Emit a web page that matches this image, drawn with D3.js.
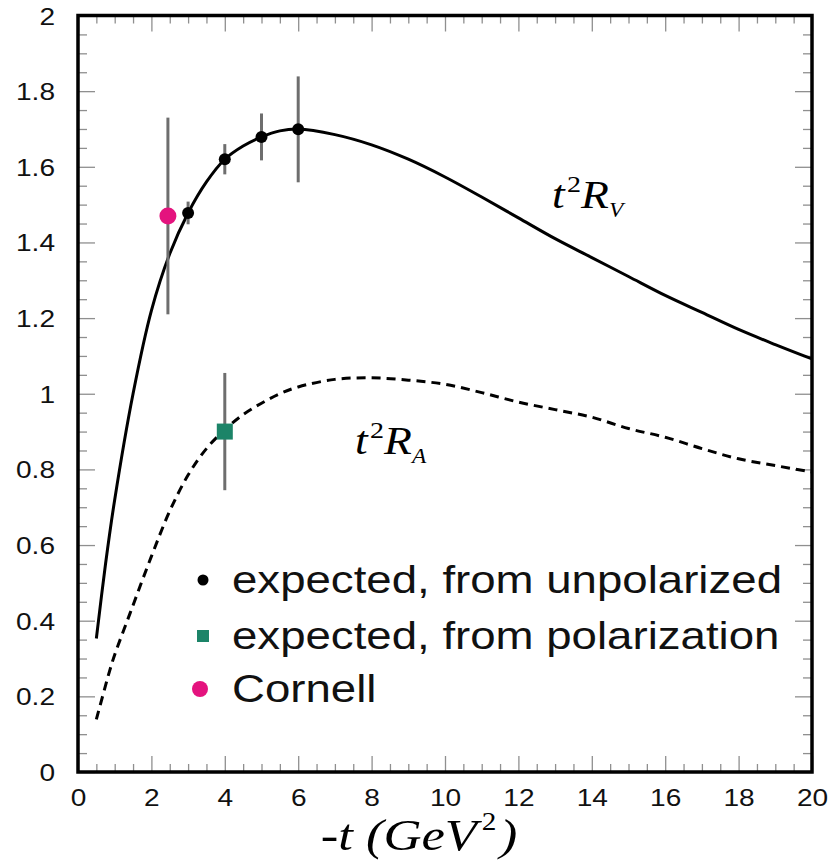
<!DOCTYPE html>
<html>
<head>
<meta charset="utf-8">
<script src="https://cdn.jsdelivr.net/npm/d3@7"></script>
<style>
  body { margin: 0; background: #fff; }
  svg { display: block; }
</style>
</head>
<body>
<svg id="chart" width="828" height="863"></svg>
<script>
// curve t^2 R_V (solid)
const rvT   = [0.5, 0.75, 1.0, 1.5, 2.0, 2.5, 3.0, 3.5, 4.0, 4.5, 5.0, 5.5, 6.0, 7.0, 8.0, 9.0, 10.0, 11.0, 12.0, 13.0, 14.0, 15.0, 16.0, 17.0, 18.0, 19.0, 20.0]
const rvVal = [0.353, 0.55, 0.72, 1.0, 1.22, 1.37, 1.478, 1.56, 1.62, 1.655, 1.679, 1.695, 1.70, 1.685, 1.658, 1.62, 1.573, 1.52, 1.465, 1.41, 1.36, 1.31, 1.26, 1.215, 1.17, 1.13, 1.092]

// curve t^2 R_A (dashed)
const raT   = [0.5, 0.87, 1.0, 1.42, 2.0, 2.5, 3.0, 3.5, 4.0, 4.5, 5.0, 5.5, 6.0, 7.0, 8.0, 9.0, 10.0, 11.0, 12.0, 13.0, 14.0, 15.0, 16.0, 17.0, 18.0, 19.0, 20.0]
const raVal = [0.139, 0.27, 0.31, 0.42, 0.57, 0.69, 0.785, 0.855, 0.905, 0.945, 0.975, 1.0, 1.018, 1.038, 1.042, 1.036, 1.025, 1.003, 0.978, 0.958, 0.938, 0.908, 0.885, 0.855, 0.828, 0.81, 0.793]

// points with error bars
const unpolT   = [3, 4, 5, 6]
const unpolVal = [1.478, 1.62, 1.679, 1.699]
const unpolErr = [0.03, 0.04, 0.062, 0.14]

const polT   = [4]
const polVal = [0.90]
const polErr = [0.155]

const cornellT   = [2.45]
const cornellVal = [1.47]
const cornellErr = [0.26]

const xMajor = [0, 2, 4, 6, 8, 10, 12, 14, 16, 18, 20]
const yMajor = [0, 0.2, 0.4, 0.6, 0.8, 1, 1.2, 1.4, 1.6, 1.8, 2]

const legendLabels = ['expected, from unpolarized', 'expected, from polarization', 'Cornell']

const stretch = 1.17
const sans = "'Liberation Sans', Arial, Helvetica, sans-serif"
const serif = "'Liberation Serif', 'Times New Roman', serif"

const plot = { left: 78, right: 812, top: 15.5, bottom: 772 }

const svg = d3.select('#chart')

const x = d3.scaleLinear().domain([0, 20]).range([plot.left, plot.right])
const y = d3.scaleLinear().domain([0, 2]).range([plot.bottom, plot.top])

const xMinor = d3.range(0, 20.01, 0.5).filter(v => v % 2 !== 0)
const yMinor = d3.range(0, 2.001, 0.05).map(v => +v.toFixed(2)).filter(v => Math.abs(v * 5 - Math.round(v * 5)) > 1e-6)

const tickColor = '#8f8f8f'
const yFmt = d3.format('~g')

function styleTicks(g) {
  g.select('.domain').remove()
  g.selectAll('line').attr('stroke', tickColor).attr('stroke-width', 1.3)
}

// ticks on all four sides, pointing inward
const sides = [
  { axis: d3.axisBottom(x), tr: [0, plot.bottom], major: xMajor, minor: xMinor, len: 16, mlen: 8 },
  { axis: d3.axisTop(x), tr: [0, plot.top], major: xMajor, minor: xMinor, len: 16, mlen: 8 },
  { axis: d3.axisLeft(y), tr: [plot.left, 0], major: yMajor, minor: yMinor, len: 17, mlen: 9 },
  { axis: d3.axisRight(y), tr: [plot.right, 0], major: yMajor, minor: yMinor, len: 17, mlen: 9 }
]

sides.forEach((s, i) => {
  svg.append('g')
    .attr('transform', 'translate(' + s.tr[0] + ',' + s.tr[1] + ')')
    .call(s.axis.tickValues(s.minor).tickSize(-s.mlen).tickFormat(''))
    .call(styleTicks)

  const g = svg.append('g')
    .attr('class', 'major-' + i)
    .attr('transform', 'translate(' + s.tr[0] + ',' + s.tr[1] + ')')
    .call(s.axis.tickValues(s.major).tickSize(-s.len).tickFormat(i === 2 ? yFmt : (i === 0 ? d3.format('d') : '')))
    .call(styleTicks)

  g.selectAll('text').attr('fill', '#111').attr('font-family', sans).attr('font-size', 24)
})

// bottom tick labels
svg.select('.major-0').selectAll('text')
  .attr('y', 0).attr('dy', 0)
  .attr('transform', 'translate(0,34) scale(' + stretch + ',1)')

// left tick labels
svg.select('.major-2').selectAll('text')
  .attr('x', 0).attr('dy', 0)
  .attr('text-anchor', 'end')
  .attr('transform', 'translate(-23,8.5) scale(' + stretch + ',1)')

// frame
svg.append('rect')
  .attr('x', plot.left).attr('y', plot.top)
  .attr('width', plot.right - plot.left).attr('height', plot.bottom - plot.top)
  .attr('fill', 'none').attr('stroke', '#000').attr('stroke-width', 3.5)

// curves
const line = d3.line().x(d => x(d[0])).y(d => y(d[1])).curve(d3.curveCatmullRom.alpha(0.5))

svg.append('path')
  .datum(d3.zip(rvT, rvVal))
  .attr('d', line)
  .attr('fill', 'none').attr('stroke', '#000').attr('stroke-width', 3)

svg.append('path')
  .datum(d3.zip(raT, raVal))
  .attr('d', line)
  .attr('fill', 'none').attr('stroke', '#000').attr('stroke-width', 3)
  .attr('stroke-dasharray', '9,6')

// error bars
function errorBars(ts, vs, es) {
  svg.append('g').selectAll('line')
    .data(d3.zip(ts, vs, es))
    .enter()
    .append('line')
    .attr('x1', d => x(d[0])).attr('x2', d => x(d[0]))
    .attr('y1', d => y(d[1] - d[2])).attr('y2', d => y(d[1] + d[2]))
    .attr('stroke', '#6e6e6e').attr('stroke-width', 3)
}
errorBars(cornellT, cornellVal, cornellErr)
errorBars(unpolT, unpolVal, unpolErr)
errorBars(polT, polVal, polErr)

const pink = '#e4137e'
const green = '#1c8468'

svg.append('g').selectAll('circle')
  .data(d3.zip(unpolT, unpolVal))
  .enter()
  .append('circle')
  .attr('cx', d => x(d[0])).attr('cy', d => y(d[1]))
  .attr('r', 6).attr('fill', '#000')

svg.append('g').selectAll('rect')
  .data(d3.zip(polT, polVal))
  .enter()
  .append('rect')
  .attr('x', d => x(d[0]) - 8).attr('y', d => y(d[1]) - 8)
  .attr('width', 16).attr('height', 16)
  .attr('fill', green)

svg.append('g').selectAll('circle')
  .data(d3.zip(cornellT, cornellVal))
  .enter()
  .append('circle')
  .attr('cx', d => x(d[0])).attr('cy', d => y(d[1]))
  .attr('r', 8.5).attr('fill', pink)

// curve labels t^2 R_V and t^2 R_A
function curveLabel(px, py, sub) {
  const t = svg.append('text')
    .attr('transform', 'translate(' + px + ',' + py + ') scale(' + stretch + ',1)')
    .attr('font-family', serif).attr('font-style', 'italic')
    .attr('font-size', 39).attr('fill', '#000')
  t.append('tspan').text('t')
  t.append('tspan').attr('font-size', 24).attr('dx', 2).attr('dy', -16).attr('font-style', 'normal').text('2')
  t.append('tspan').attr('dy', 16).attr('dx', 0).text('R')
  t.append('tspan').attr('font-size', 20).attr('dy', 9).text(sub)
}
curveLabel(552, 208, 'V')
curveLabel(355, 454, 'A')

// legend
const legend = svg.append('g')
const legendY = [580, 636, 689]
legend.append('circle').attr('cx', 203).attr('cy', legendY[0]).attr('r', 5.5).attr('fill', '#000')
legend.append('rect').attr('x', 197).attr('y', legendY[1] - 6).attr('width', 12).attr('height', 12).attr('fill', green)
legend.append('circle').attr('cx', 200).attr('cy', legendY[2]).attr('r', 8).attr('fill', pink)

legend.selectAll('text')
  .data(legendLabels)
  .enter()
  .append('text')
  .attr('transform', (d, i) => 'translate(232,' + (legendY[i] + 13) + ') scale(1.2,1)')
  .attr('font-family', sans).attr('font-size', 38).attr('fill', '#111')
  .text(d => d)

// x axis title
const title = svg.append('text')
  .attr('transform', 'translate(419,850) scale(' + stretch + ',1)')
  .attr('text-anchor', 'middle')
  .attr('font-family', serif).attr('font-style', 'italic')
  .attr('font-size', 45).attr('fill', '#000')
title.append('tspan').text('-t (GeV')
title.append('tspan').attr('font-size', 25).attr('font-style', 'normal').attr('dx', 4).attr('dy', -20).text('2')
title.append('tspan').attr('dy', 20).attr('dx', 3).text(')')
</script>
</body>
</html>
